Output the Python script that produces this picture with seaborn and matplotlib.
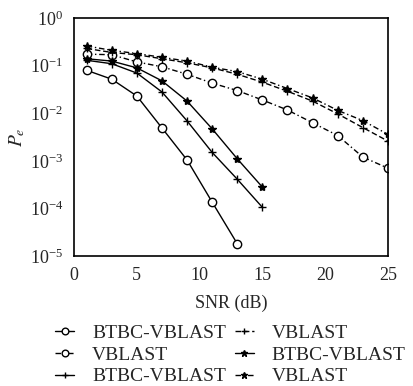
import numpy as np
import pandas as pd
import matplotlib
matplotlib.use("Agg")
import matplotlib.pyplot as plt
import seaborn as sns

#%% Data

snr_a = [1, 3, 5, 7, 9, 11, 13]
btbc_o = [0.08, 0.052, 0.023, 0.0049, 0.00104, 1.35e-4, 1.8e-5]

snr_b = [1, 3, 5, 7, 9, 11, 13, 15]
btbc_plus = [0.13, 0.11, 0.07, 0.028, 0.0069, 0.0015, 4.1e-4, 1.05e-4]
btbc_star = [0.14, 0.125, 0.09, 0.048, 0.018, 0.0047, 0.0011, 2.8e-4]

snr_c = [1, 3, 5, 7, 9, 11, 13, 15, 17, 19, 21, 23, 25]
vblast_o = [0.175, 0.17, 0.12, 0.095, 0.066, 0.043, 0.03, 0.019, 0.0117, 0.0063, 0.0034, 0.0012, 7e-4]
vblast_plus = [0.23, 0.19, 0.17, 0.14, 0.115, 0.09, 0.066, 0.045, 0.029, 0.018, 0.0097, 0.005, 0.0026]
vblast_star = [0.26, 0.21, 0.18, 0.15, 0.125, 0.093, 0.075, 0.052, 0.033, 0.021, 0.0115, 0.007, 0.0036]

labels = ['BTBC-VBLAST', 'VBLAST', 'BTBC-VBLAST', 'VBLAST', 'BTBC-VBLAST', 'VBLAST']

#%% Plot

sns.set_style("white")
plt.rcParams['font.family'] = ['Liberation Serif', 'DejaVu Serif']
plt.rcParams['mathtext.fontset'] = 'stix'

fig = plt.figure(figsize=(4.14, 3.86), dpi=100)
ax = fig.add_axes([0.179, 0.337, 0.758, 0.616])

dash = (4, 2)
dashdot = (4, 2, 1, 2)
series = [
    (snr_a, btbc_o, 'o', '', 'white'),
    (snr_c, vblast_o, 'o', dashdot, 'white'),
    (snr_b, btbc_plus, '+', '', 'black'),
    (snr_c, vblast_plus, '+', dash, 'black'),
    (snr_b, btbc_star, '*', '', 'black'),
    (snr_c, vblast_star, '*', dashdot, 'black'),
]

for (x, y, m, ls, fc), lab in zip(series, labels):
    df = pd.DataFrame({'SNR': x, 'Pe': y})
    sns.lineplot(data=df, x='SNR', y='Pe', ax=ax, color='black', marker=m,
                 markersize=6, markerfacecolor=fc, markeredgecolor='black',
                 markeredgewidth=1.0, linewidth=1.0, label=lab)
    if ls:
        ax.lines[-1].set_dashes(ls)

ax.set_yscale('log')
ax.set_xlim(0, 25)
ax.set_ylim(1e-5, 1)
ax.set_xticks([0, 5, 10, 15, 20, 25])
ax.set_yticks([1e-5, 1e-4, 1e-3, 1e-2, 1e-1, 1])
ax.minorticks_off()
ax.tick_params(direction='in', length=3, labelsize=13, pad=8)
ax.set_xlabel('SNR (dB)', fontsize=13, labelpad=8)
ax.set_ylabel('$P_e$', fontsize=14, labelpad=2)
for s in ax.spines.values():
    s.set_linewidth(1.2)
    s.set_color('black')

ax.legend(loc='upper left', bbox_to_anchor=(55 / 414, 1 - 324 / 386),
          bbox_transform=fig.transFigure, ncol=2, frameon=False,
          fontsize=14, handlelength=1.0, handletextpad=0.9, columnspacing=0.45,
          labelspacing=0.22, borderpad=0, borderaxespad=0, markerscale=0.8)

fig.savefig('out.png', dpi=100)
